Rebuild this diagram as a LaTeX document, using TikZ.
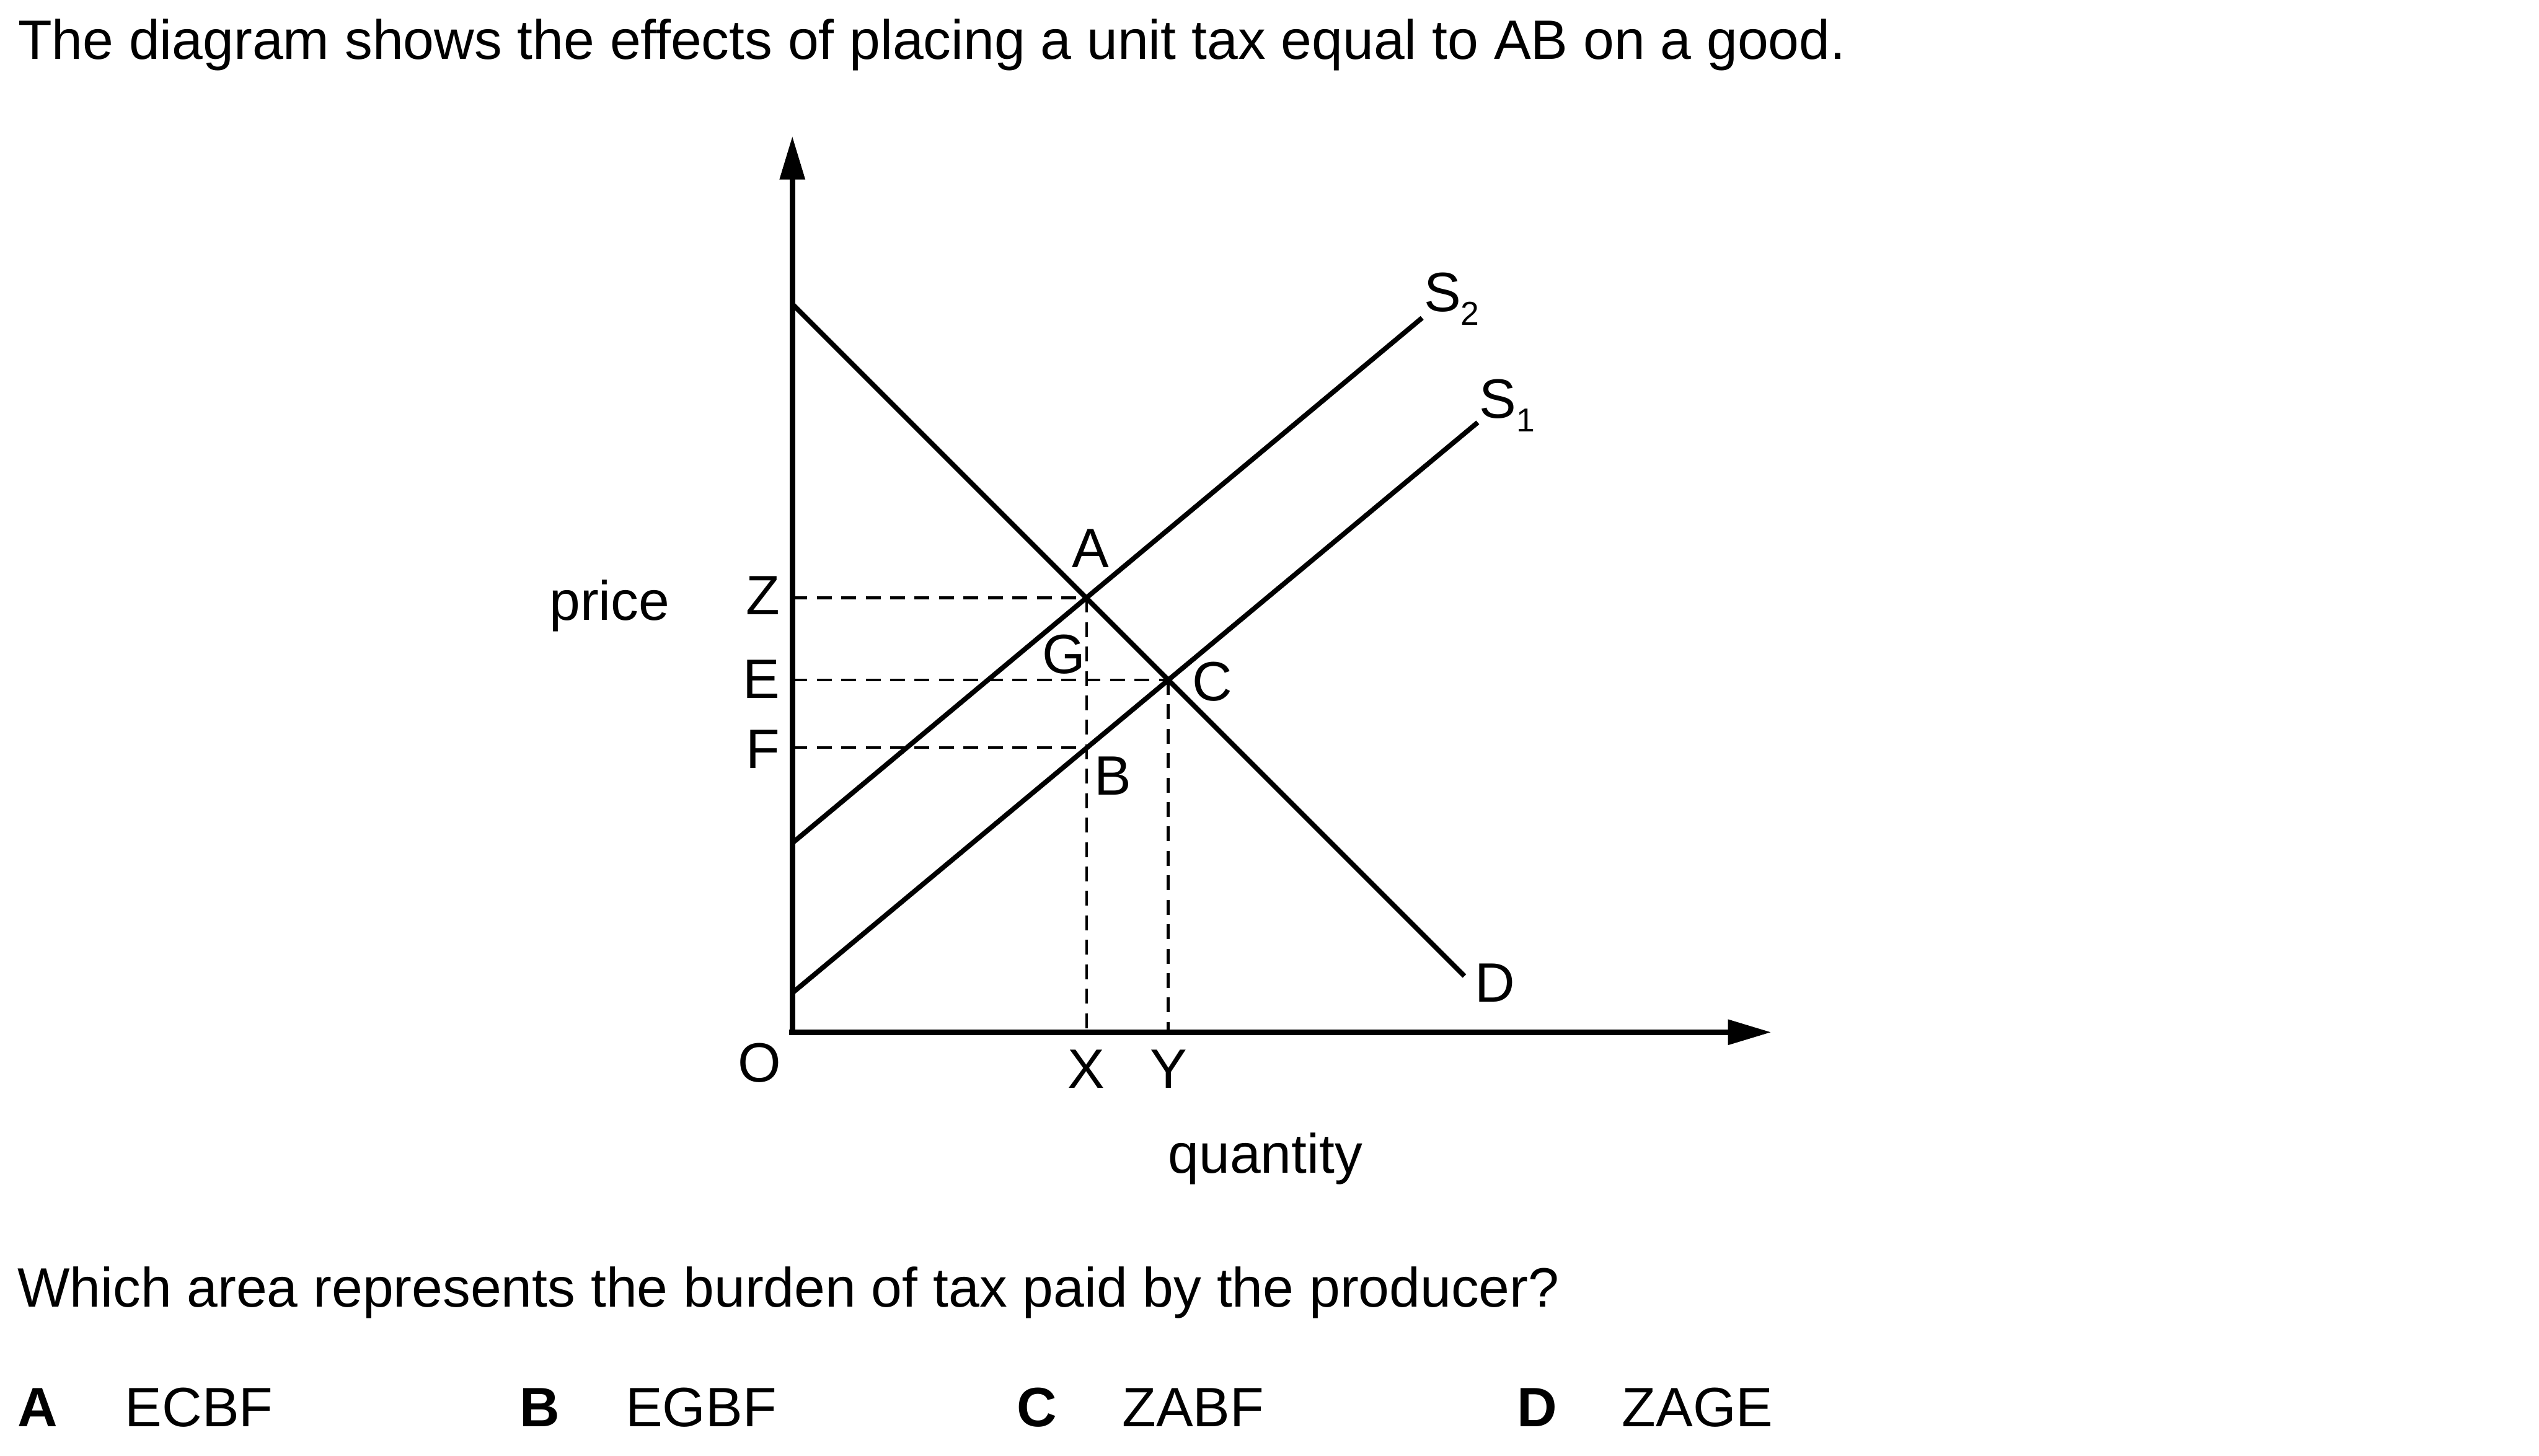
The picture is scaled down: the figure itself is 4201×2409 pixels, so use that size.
\documentclass[tikz,border=0pt]{standalone}
\usepackage{fontspec}
\setmainfont{Liberation Sans}
\usetikzlibrary{arrows.meta}
\begin{document}
\begin{tikzpicture}[x=0.01cm,y=-0.01cm,
  txt/.style={inner sep=0pt, outer sep=0pt, font=\fontsize{26.1}{32}\selectfont},
  axisline/.style={line width=2.7pt, -{Triangle[length=0.72cm,width=0.40cm]}},
  curve/.style={line width=2.3pt},
  guide/.style={line width=1.3pt, dash pattern=on 7pt off 4.5pt}
]
\useasboundingbox (0,0) rectangle (4201,2409);
% key points
\coordinate (O) at (1311,1708);
\coordinate (Otop) at (1311,1712);
\coordinate (Oleft) at (1306,1708);
\coordinate (ytip) at (1311,225);
\coordinate (xtip) at (2931,1708);
\coordinate (Dstart) at (1311,503);
\coordinate (Dend) at (2423,1615);
\coordinate (S2start) at (1311,1395);
\coordinate (S2end) at (2353,526);
\coordinate (S1start) at (1311,1643);
\coordinate (S1end) at (2445,699);
\coordinate (A) at (1798,989);
\coordinate (C) at (1933,1125);
\coordinate (B) at (1798,1237);
\coordinate (Zp) at (1311,989);
\coordinate (Ep) at (1311,1125);
\coordinate (Fp) at (1311,1237);
\coordinate (Xp) at (1798,1708);
\coordinate (Yp) at (1933,1708);
% axes
\draw[axisline] (Otop) -- (ytip);
\draw[axisline] (Oleft) -- (xtip);
% guides
\draw[guide] (Zp) -- (A);
\draw[guide] (Ep) -- (C);
\draw[guide] (Fp) -- (B);
\draw[guide] (A) -- (Xp);
\draw[guide] (C) -- (Yp);
% curves
\draw[curve] (Dstart) -- (Dend);
\draw[curve] (S2start) -- (S2end);
\draw[curve] (S1start) -- (S1end);
% labels
\node[txt, anchor=base west] (title) at (30,98) {The diagram shows the effects of placing a unit tax equal to AB on a good.};
\node[txt, anchor=base west] (price) at (909,1026) {price};
\node[txt, anchor=base west] (quantity) at (1933,1941) {quantity};
\node[txt, anchor=base east] (lZ) at (1290,1017) {Z};
\node[txt, anchor=base east] (lE) at (1290,1155) {E};
\node[txt, anchor=base east] (lF) at (1290,1271) {F};
\node[txt, anchor=base] (lA) at (1804,939) {A};
\node[txt, anchor=base] (lG) at (1760,1114) {G};
\node[txt, anchor=base] (lC) at (2006,1159) {C};
\node[txt, anchor=base] (lB) at (1841,1315) {B};
\node[txt, anchor=base] (lO) at (1257,1790) {O};
\node[txt, anchor=base] (lX) at (1797,1800) {X};
\node[txt, anchor=base] (lY) at (1934,1800) {Y};
\node[txt, anchor=base west] (lS2) at (2356,515) {S\raisebox{-0.245em}{\fontsize{15.6}{16}\selectfont 2}};
\node[txt, anchor=base west] (lS1) at (2448,692) {S\raisebox{-0.245em}{\fontsize{15.6}{16}\selectfont 1}};
\node[txt, anchor=base west] (lD) at (2440,1658) {D};
\node[txt, anchor=base west] (question) at (29,2163) {Which area represents the burden of tax paid by the producer?};
\node[txt, anchor=base west] (oA) at (29,2360) {\textbf{A}};
\node[txt, anchor=base west] (tA) at (207,2360) {ECBF};
\node[txt, anchor=base west] (oB) at (860,2360) {\textbf{B}};
\node[txt, anchor=base west] (tB) at (1035,2360) {EGBF};
\node[txt, anchor=base west] (oC) at (1683,2360) {\textbf{C}};
\node[txt, anchor=base west] (tC) at (1857,2360) {ZABF};
\node[txt, anchor=base west] (oD) at (2510,2360) {\textbf{D}};
\node[txt, anchor=base west] (tD) at (2684,2360) {ZAGE};
\end{tikzpicture}
\end{document}
